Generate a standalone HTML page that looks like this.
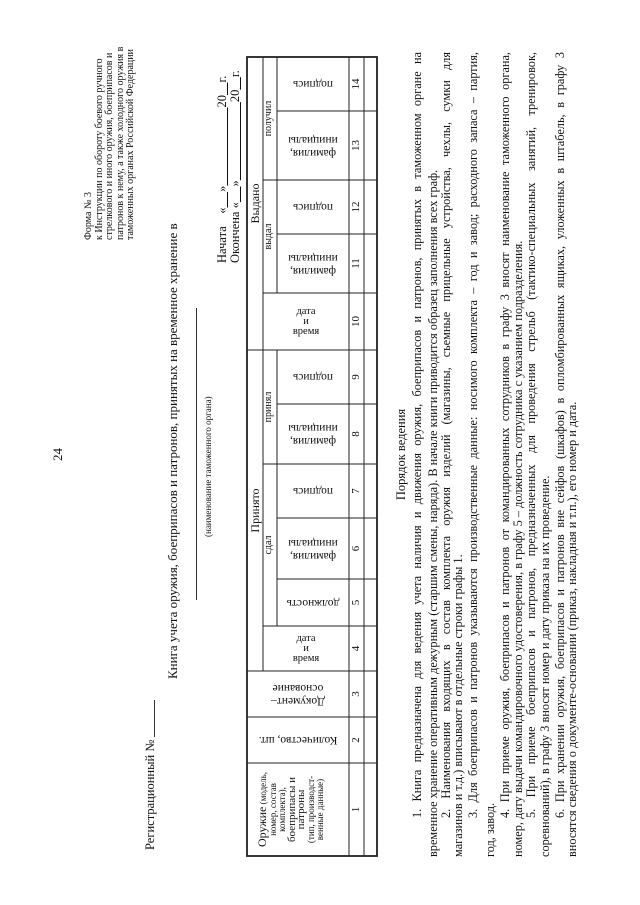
<!DOCTYPE html>
<html><head><meta charset="utf-8">
<style>
html,body{margin:0;padding:0;background:#fff;}
body{width:640px;height:905px;overflow:hidden;position:relative;}
#pg{position:absolute;left:0;top:0;width:905px;height:640px;transform-origin:0 0;transform:translateY(905px) rotate(-90deg);font-family:"Liberation Serif",serif;color:#111;}
.a{position:absolute;white-space:nowrap;}
.c{position:absolute;text-align:center;white-space:nowrap;}
.v{position:absolute;width:100px;height:60px;display:flex;align-items:center;justify-content:center;text-align:center;white-space:nowrap;transform:rotate(-90deg);font-size:11.5px;line-height:13px;}
.u{transform:rotate(90deg);font-size:10.5px;line-height:10px;}
.ln{position:absolute;left:48px;width:805px;height:14px;line-height:14px;font-size:12.3px;white-space:nowrap;}
.j{text-align:justify;text-align-last:justify;white-space:normal;overflow:hidden;}
</style></head><body>
<div id="pg">
<div class="a" style="left:444px;top:50px;font-size:13px;">24</div>

<div class="a" style="left:665px;top:84px;font-size:10px;line-height:10.5px;">Форма № 3<br>к Инструкции по обороту боевого ручного<br>стрелкового и иного оружия, боеприпасов и<br>патронов к нему, а также холодного оружия в<br>таможенных органах Российской Федерации</div>

<div class="a" style="left:55px;top:143px;font-size:12.5px;">Регистрационный №</div>
<div class="a" style="left:168px;top:154px;width:37px;border-top:1px solid #333;"></div>

<div class="a" style="left:226px;top:165px;font-size:13px;">Книга учета оружия, боеприпасов и патронов, принятых на временное хранение в</div>
<div class="a" style="left:305px;top:196px;width:292px;border-top:1px solid #333;"></div>
<div class="a" style="left:368px;top:203px;font-size:9px;">(наименование таможенного органа)</div>

<div class="a" style="left:642px;top:216px;font-size:12.5px;line-height:12.5px;">Начата&nbsp;&nbsp;&nbsp;&nbsp;«<u>&nbsp;&nbsp;&nbsp;&nbsp;&nbsp;</u>»<u>&nbsp;&nbsp;&nbsp;&nbsp;&nbsp;&nbsp;&nbsp;&nbsp;&nbsp;&nbsp;&nbsp;&nbsp;&nbsp;&nbsp;&nbsp;&nbsp;&nbsp;&nbsp;&nbsp;&nbsp;&nbsp;&nbsp;&nbsp;&nbsp;&nbsp;</u>20<u>&nbsp;&nbsp;&nbsp;&nbsp;</u>г.<br>Окончена «<u>&nbsp;&nbsp;&nbsp;&nbsp;&nbsp;</u>»<u>&nbsp;&nbsp;&nbsp;&nbsp;&nbsp;&nbsp;&nbsp;&nbsp;&nbsp;&nbsp;&nbsp;&nbsp;&nbsp;&nbsp;&nbsp;&nbsp;&nbsp;&nbsp;&nbsp;&nbsp;&nbsp;&nbsp;&nbsp;&nbsp;&nbsp;</u>20<u>&nbsp;&nbsp;&nbsp;&nbsp;</u>г.</div>

<svg class="a" style="left:0;top:0" width="905" height="640">
<g stroke="#222" stroke-width="1" fill="none">
<rect x="49" y="247" width="799" height="130" stroke-width="1.8"/>
<line x1="49" y1="349" x2="848" y2="349"/>
<line x1="49" y1="364" x2="848" y2="364"/>
<line x1="234" y1="263" x2="848" y2="263"/>
<line x1="279" y1="277" x2="555" y2="277"/>
<line x1="612" y1="277" x2="848" y2="277"/>
<line x1="142" y1="247" x2="142" y2="377"/>
<line x1="188" y1="247" x2="188" y2="377"/>
<line x1="234" y1="247" x2="234" y2="377"/>
<line x1="555" y1="247" x2="555" y2="377"/>
<line x1="279" y1="263" x2="279" y2="377"/>
<line x1="612" y1="263" x2="612" y2="377"/>
<line x1="441" y1="263" x2="441" y2="377"/>
<line x1="725" y1="263" x2="725" y2="377"/>
<line x1="326" y1="277" x2="326" y2="377"/>
<line x1="387" y1="277" x2="387" y2="377"/>
<line x1="501" y1="277" x2="501" y2="377"/>
<line x1="671" y1="277" x2="671" y2="377"/>
<line x1="794" y1="277" x2="794" y2="377"/>
</g></svg>

<div class="c" style="left:49px;top:258px;width:93px;font-size:9px;line-height:9.5px;"><span style="font-size:12px">Оружие</span> (модель,<br>номер, состав<br>комплекта),<br><span style="font-size:11px">боеприпасы и<br>патроны</span><br>(тип, производст-<br>венные данные)</div>

<div class="v" style="left:115px;top:268px;">Количество, шт.</div>
<div class="v" style="left:161px;top:268px;">Документ–<br>основание</div>
<div class="v u" style="left:206px;top:276px;">дата<br>и<br>время</div>
<div class="v" style="left:252px;top:283px;">должность</div>
<div class="v" style="left:306px;top:283px;">фамилия,<br>инициалы</div>
<div class="v" style="left:364px;top:283px;">подпись</div>
<div class="v" style="left:421px;top:283px;">фамилия,<br>инициалы</div>
<div class="v" style="left:478px;top:283px;">подпись</div>
<div class="v u" style="left:533px;top:276px;">дата<br>и<br>время</div>
<div class="v" style="left:591px;top:283px;">фамилия,<br>инициалы</div>
<div class="v" style="left:648px;top:283px;">подпись</div>
<div class="v" style="left:709px;top:283px;">фамилия,<br>инициалы</div>
<div class="v" style="left:771px;top:283px;">подпись</div>

<div class="c" style="left:234px;top:248px;width:321px;font-size:12px;">Принято</div>
<div class="c" style="left:555px;top:248px;width:293px;font-size:12px;">Выдано</div>
<div class="c" style="left:279px;top:263px;width:162px;font-size:10px;">сдал</div>
<div class="c" style="left:441px;top:263px;width:114px;font-size:10px;">принял</div>
<div class="c" style="left:612px;top:263px;width:113px;font-size:10px;">выдал</div>
<div class="c" style="left:725px;top:263px;width:123px;font-size:10px;">получил</div>

<div style="position:absolute;left:0;top:349px;height:15px;line-height:15px;font-size:11px;">
<span class="c" style="left:49px;width:93px">1</span><span class="c" style="left:142px;width:46px">2</span><span class="c" style="left:188px;width:46px">3</span><span class="c" style="left:234px;width:45px">4</span><span class="c" style="left:279px;width:47px">5</span><span class="c" style="left:326px;width:61px">6</span><span class="c" style="left:387px;width:54px">7</span><span class="c" style="left:441px;width:60px">8</span><span class="c" style="left:501px;width:54px">9</span><span class="c" style="left:555px;width:57px">10</span><span class="c" style="left:612px;width:59px">11</span><span class="c" style="left:671px;width:54px">12</span><span class="c" style="left:725px;width:69px">13</span><span class="c" style="left:794px;width:54px">14</span>
</div>

<div class="c" style="left:48px;top:394px;width:805px;font-size:12.5px;">Порядок ведения</div>
<div class="ln j" style="top:410px;padding-left:39px;width:766px;">1. Книга предназначена для ведения учета наличия и движения оружия, боеприпасов и патронов, принятых в таможенном органе на</div>
<div class="ln" style="top:426px;">временное хранение оперативным дежурным (старшим смены, наряда). В начале книги приводится образец заполнения всех граф.</div>
<div class="ln j" style="top:439px;padding-left:39px;width:766px;">2. Наименования входящих в состав комплекта оружия изделий (магазины, съемные прицельные устройства, чехлы, сумки для</div>
<div class="ln" style="top:451px;">магазинов и т.д.) вписывают в отдельные строки графы 1.</div>
<div class="ln j" style="top:466px;padding-left:39px;width:766px;">3. Для боеприпасов и патронов указываются производственные данные: носимого комплекта – год и завод; расходного запаса – партия,</div>
<div class="ln" style="top:483px;">год, завод.</div>
<div class="ln j" style="top:498px;padding-left:39px;width:766px;">4. При приеме оружия, боеприпасов и патронов от командированных сотрудников в графу 3 вносят наименование таможенного органа,</div>
<div class="ln" style="top:511px;">номер, дату выдачи командировочного удостоверения, в графу 5 – должность сотрудника с указанием подразделения.</div>
<div class="ln j" style="top:524px;padding-left:39px;width:766px;">5. При приеме боеприпасов и патронов, предназначенных для проведения стрельб (тактико-специальных занятий, тренировок,</div>
<div class="ln" style="top:538px;">соревнований), в графу 3 вносят номер и дату приказа на их проведение.</div>
<div class="ln j" style="top:553px;padding-left:39px;width:766px;">6. При хранении оружия, боеприпасов и патронов вне сейфов (шкафов) в опломбированных ящиках, уложенных в штабель, в графу 3</div>
<div class="ln" style="top:565px;">вносятся сведения о документе-основании (приказ, накладная и т.п.), его номер и дата.</div>
</div>
</body></html>
